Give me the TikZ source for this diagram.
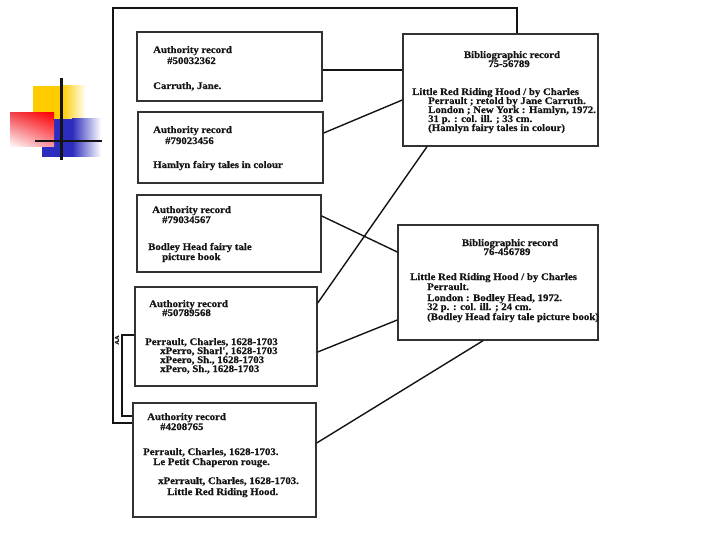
\documentclass[tikz,border=0pt]{standalone}
\usepackage{fontspec}
\usetikzlibrary{shadings}
\newfontfamily\rec{Liberation Serif}[FakeStretch=1.08, FakeBold=0.6]
\definecolor{ylw}{RGB}{255,204,0}
\definecolor{blu}{RGB}{44,44,190}
\definecolor{rdA}{RGB}{240,70,80}
\definecolor{rdB}{RGB}{250,150,160}
\definecolor{ink}{RGB}{20,20,20}
\definecolor{edge}{RGB}{50,50,50}
\tikzset{
  recbox/.style={draw=edge, line width=1.4pt, rectangle, inner sep=0pt},
  txt/.style={anchor=base west, inner sep=0pt, text=ink, font=\rec\bfseries\fontsize{10}{10}\selectfont},
  ctxt/.style={txt, anchor=base},
  link/.style={draw=ink, line width=1.4pt},
  frame/.style={draw=ink, line width=2pt, line join=miter},
}
\begin{document}
\begin{tikzpicture}[x=1pt, y=-1pt]
\useasboundingbox (0,0) rectangle (720,540);
\fill[white] (0,0) rectangle (720,540);

% logo
\fill[ylw] (33,86) rectangle (62,120);
\shade[left color=ylw, right color=white] (62,86) rectangle (86,120);
\fill[blu] (42,119) rectangle (72,157);
\shade[left color=blu, right color=white] (72,119) rectangle (101,157);
\shade[upper left=rdA, upper right=red, lower left=white, lower right=rdB] (10,113) rectangle (54,147);
\draw[line width=3pt, ink] (61,78) -- (61,160);
\draw[line width=2.5pt, ink] (35,141) -- (102,141);

% authority boxes
\node[recbox, minimum width=185pt, minimum height=69pt] (a1) at (229.5,66.5) {};
\node[recbox, minimum width=185pt, minimum height=71pt] (a2) at (230.5,147.5) {};
\node[recbox, minimum width=184pt, minimum height=77pt] (a3) at (229,233.5) {};
\node[recbox, minimum width=182pt, minimum height=99pt] (a4) at (226,336.5) {};
\node[recbox, minimum width=183pt, minimum height=114pt] (a5) at (224.5,460) {};
% bibliographic boxes
\node[recbox, minimum width=195pt, minimum height=112pt] (b1) at (500.5,90) {};
\node[recbox, minimum width=200pt, minimum height=115pt] (b2) at (498,282.5) {};

% texts box 1
\node[txt] (t1a) at (153,53) {Authority record};
\node[txt] (t1b) at (167,64) {\#50032362};
\node[txt] (t1c) at (153,89) {Carruth, Jane.};
% box 2
\node[txt] (t2a) at (153,133) {Authority record};
\node[txt] (t2b) at (165,144) {\#79023456};
\node[txt] (t2c) at (153,168) {Hamlyn fairy tales in colour};
% box 3
\node[txt] (t3a) at (152,213) {Authority record};
\node[txt] (t3b) at (162,223) {\#79034567};
\node[txt] (t3c) at (148,250) {Bodley Head fairy tale};
\node[txt] (t3d) at (162,260) {picture book};
% box 4
\node[txt] (t4a) at (149,307) {Authority record};
\node[txt] (t4b) at (162,316) {\#50789568};
\node[txt] (t4c) at (145,345) {Perrault, Charles, 1628-1703};
\node[txt] (t4d) at (160,354) {xPerro, Sharl', 1628-1703};
\node[txt] (t4e) at (160,363) {xPeero, Sh., 1628-1703};
\node[txt] (t4f) at (160,372) {xPero, Sh., 1628-1703};
% box 5
\node[txt] (t5a) at (147,420) {Authority record};
\node[txt] (t5b) at (160,430) {\#4208765};
\node[txt] (t5c) at (143,455) {Perrault, Charles, 1628-1703.};
\node[txt] (t5d) at (153,465) {Le Petit Chaperon rouge.};
\node[txt] (t5e) at (158,484) {xPerrault, Charles, 1628-1703.};
\node[txt] (t5f) at (167,495) {Little Red Riding Hood.};
% bib 1
\node[ctxt] (u1a) at (512,58) {Bibliographic record};
\node[ctxt] (u1b) at (509,67) {75-56789};
\node[txt] (u1c) at (412,95) {Little Red Riding Hood / by Charles};
\node[txt] (u1d) at (428,104) {Perrault ; retold by Jane Carruth.};
\node[txt] (u1e) at (428,113) {London ; New York : Hamlyn, 1972.};
\node[txt] (u1f) at (428,122) {31 p. : col. ill. ; 33 cm.};
\node[txt] (u1g) at (428,131) {(Hamlyn fairy tales in colour)};
% bib 2
\node[ctxt] (u2a) at (510,246) {Bibliographic record};
\node[ctxt] (u2b) at (507,255) {76-456789};
\node[txt] (u2c) at (410,280) {Little Red Riding Hood / by Charles};
\node[txt] (u2d) at (427,290) {Perrault.};
\node[txt] (u2e) at (427,301) {London : Bodley Head, 1972.};
\node[txt] (u2f) at (427,310) {32 p. : col. ill. ; 24 cm.};
\node[txt] (u2g) at (427,320) {(Bodley Head fairy tale picture book)};

% small rotated mark
\node[inner sep=0pt, rotate=90, text=ink, font=\rec\bfseries\fontsize{6}{6}\selectfont] (mk) at (117,340) {AA};

% connectors
\draw[link] ([yshift=-3.5pt]a1.east) -- ([yshift=20pt]b1.west);
\draw[link] ([yshift=14.5pt]a2.east) -- ([yshift=-10pt]b1.west);
\draw[link] ([yshift=17.5pt]a3.east) -- ([yshift=30.5pt]b2.west);
\draw[link] ([yshift=33.5pt]a4.east) -- ([xshift=-73.5pt]b1.south);
\draw[link] ([yshift=-15.5pt]a4.east) -- ([yshift=-37.5pt]b2.west);
\draw[link] ([yshift=17pt]a5.east) -- ([xshift=-15pt]b2.south);

% frame loops
\coordinate (f1) at (517,8);
\coordinate (f2) at (113,8);
\coordinate (f3) at (113,423);
\draw[frame] ([xshift=16.5pt]b1.north) -- (f1) -- (f2) -- (f3) -- (a5.west |- f3);
\coordinate (g1) at (122,335);
\coordinate (g2) at (122,416);
\draw[frame] (a4.west |- g1) -- (g1) -- (g2) -- (a5.west |- g2);
\end{tikzpicture}
\end{document}
